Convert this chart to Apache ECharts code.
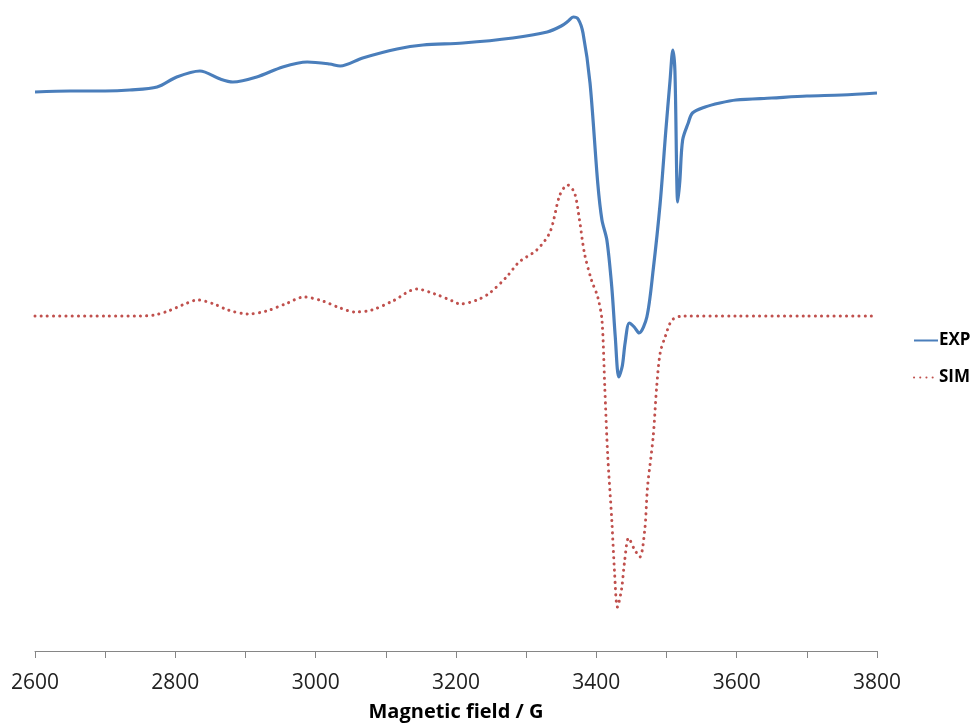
<!DOCTYPE html>
<html>
<head>
<meta charset="utf-8">
<script src="https://cdn.jsdelivr.net/npm/echarts@6/dist/echarts.min.js"></script>
<style>html,body{margin:0;padding:0;background:#fff}#c{width:977px;height:726px}</style>
</head>
<body>
<div id="c"></div>
<script>
// Magnetic field (G) and intensity (arbitrary units)
const expField = [2600,2650,2700,2735,2774,2802,2835,2864,2882,2916,2953,2988,3020,3035,3067,3116,3153,3210,3281,3330,3350,3360,3367,3374,3381,3391,3402,3408,3415,3422,3427,3432,3437,3441,3447,3454,3461,3472,3481,3491,3499,3505,3509,3512,3516,3519,3523,3531,3537,3555,3576,3599,3650,3700,3750,3800];
const expSignal = [559,560,560,561,564,574,580,572,569,574,584,589,587,585,593,602,606,608,613,619,625,630,634,632,618,568,468,431,411,364,314,274,285,308,328,324,318,334,381,448,520,570,601,580,449,470,511,528,538,544,548,551,553,555,556,558];

const simField = [2600,2700,2750,2770,2790,2810,2832,2855,2875,2903,2930,2960,2983,3010,3035,3056,3080,3110,3144,3170,3195,3206,3230,3248,3272,3290,3315,3334,3348,3359,3369,3376,3383,3393,3402,3408,3412,3416,3422,3426,3430,3436,3440,3446,3454,3462,3469,3473,3481,3486,3491,3498,3508,3524,3600,3700,3800];
const simSignal = [335,335,335,336,340,346,351,347,341,337,340,348,354,350,343,339,341,350,362,357,350,347,351,358,374,389,401,419,456,466,458,431,398,371,354,331,264,198,131,78,44,62,88,113,102,94,121,164,214,264,298,314,331,335,335,335,335];

const xTicks = [2600,2800,3000,3200,3400,3600,3800];
const seriesNames = ['EXP','SIM'];

const pair = (xs, ys) => xs.map((x, i) => [x, ys[i]]);

const chart = echarts.init(document.getElementById('c'), null, {renderer:'canvas'});
chart.setOption({
  animation: false,
  backgroundColor: '#ffffff',
  grid: {left: 35, right: 100, top: 10, bottom: 75, containLabel: false, outerBoundsMode: 'none'},
  legend: {
    orient: 'vertical', left: 913, top: 332, padding: 0,
    itemWidth: 24, itemHeight: 14, itemGap: 20,
    data: seriesNames,
    itemStyle: {opacity: 0},
    textStyle: {fontFamily: 'Open Sans', fontWeight: 'bold', fontSize: 17, color: '#000', padding: [0,0,0,-4]}
  },
  xAxis: {
    type: 'value', min: 2600, max: 3800, interval: 100,
    name: 'Magnetic field / G', nameLocation: 'middle', nameGap: 51,
    nameTextStyle: {fontFamily: 'Open Sans', fontWeight: 'bold', fontSize: 20, color: '#000'},
    axisLine: {show: true, lineStyle: {color: '#868686', width: 1}},
    axisTick: {show: true, length: 7, inside: false, lineStyle: {color: '#868686'}},
    splitLine: {show: false},
    axisLabel: {
      margin: 22, fontFamily: 'Open Sans', fontSize: 21, color: '#222',
      formatter: v => xTicks.indexOf(v) >= 0 ? String(v) : ''
    }
  },
  yAxis: {
    type: 'value', min: 0, max: 641, show: false,
    splitLine: {show: false}
  },
  series: [
    {
      name: seriesNames[0], type: 'line', symbol: 'none', smooth: 0.3,
      data: pair(expField, expSignal),
      lineStyle: {color: '#4a7ebb', width: 3.2},
      itemStyle: {color: '#4a7ebb'}
    },
    {
      name: seriesNames[1], type: 'line', symbol: 'none', smooth: 0.3,
      data: pair(simField, simSignal),
      lineStyle: {color: '#c0504d', width: 3, type: [0.1, 6.1], cap: 'round'},
      itemStyle: {color: '#c0504d'}
    }
  ]
});
</script>
</body>
</html>
